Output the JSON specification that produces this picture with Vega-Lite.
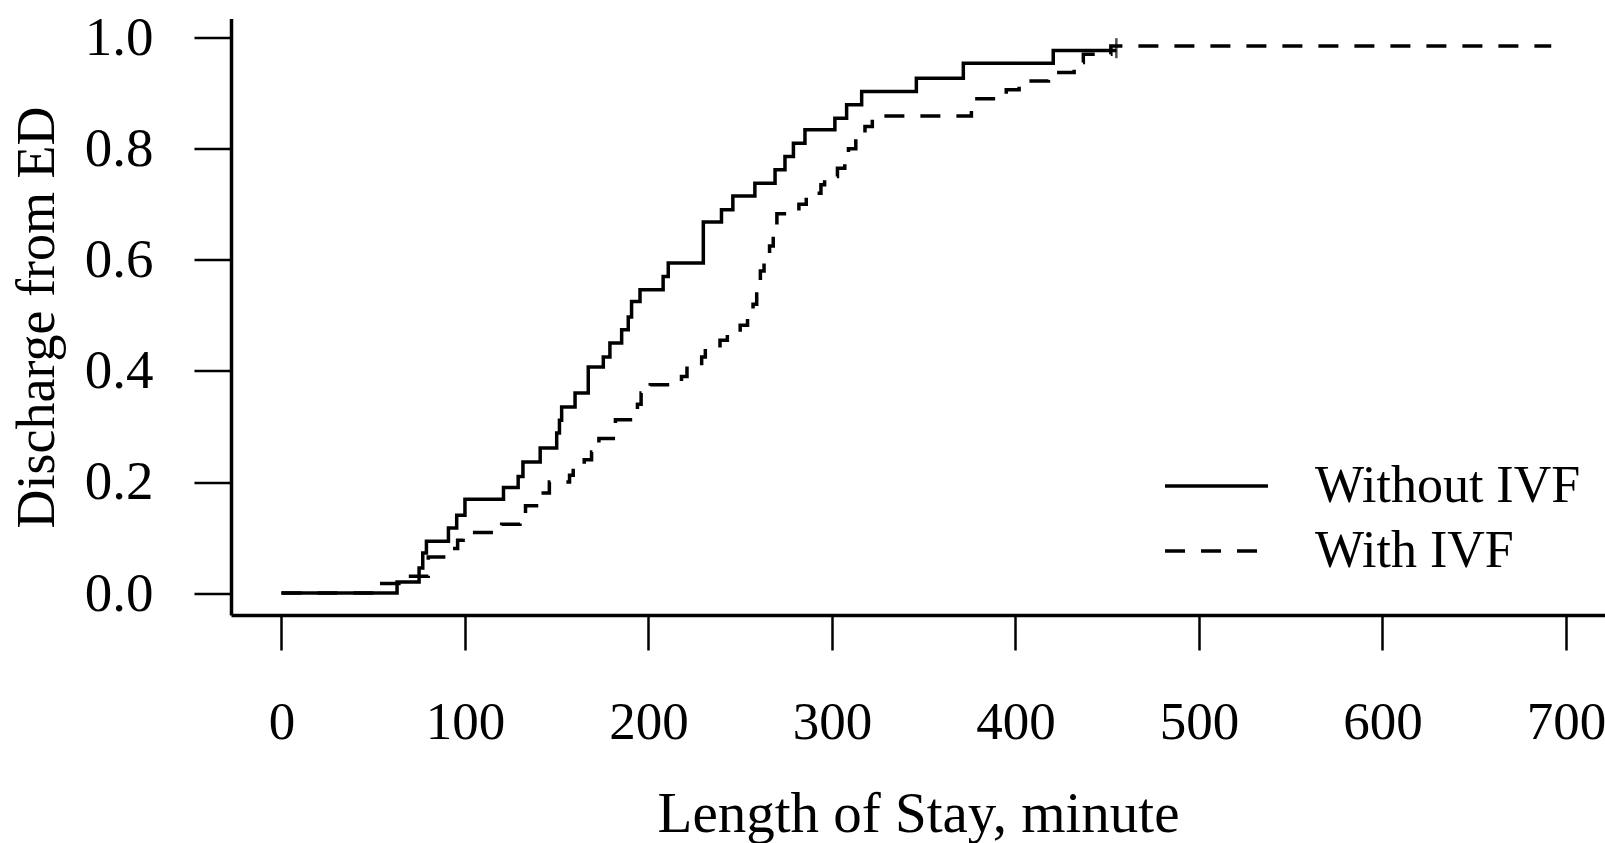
{
  "$schema": "https://vega.github.io/schema/vega-lite/v6.json",
  "usermeta": {"embedOptions": {"actions": false}},
  "width": 1374,
  "height": 596.6,
  "autosize": {"type": "none"},
  "padding": {"left": 231, "top": 18.4, "right": 0, "bottom": 228},
  "background": "white",
  "config": {"view": {"stroke": null}, "font": "Liberation Serif"},
  "datasets": {
    "km": [
      {"minute": 0, "discharged": 0, "group": "Without IVF"},
      {"minute": 63, "discharged": 0.02, "group": "Without IVF"},
      {"minute": 75, "discharged": 0.045, "group": "Without IVF"},
      {"minute": 77, "discharged": 0.072, "group": "Without IVF"},
      {"minute": 79, "discharged": 0.093, "group": "Without IVF"},
      {"minute": 91, "discharged": 0.117, "group": "Without IVF"},
      {"minute": 95.5, "discharged": 0.14, "group": "Without IVF"},
      {"minute": 100, "discharged": 0.169, "group": "Without IVF"},
      {"minute": 121, "discharged": 0.19, "group": "Without IVF"},
      {"minute": 129, "discharged": 0.21, "group": "Without IVF"},
      {"minute": 131.6, "discharged": 0.236, "group": "Without IVF"},
      {"minute": 141, "discharged": 0.261, "group": "Without IVF"},
      {"minute": 150, "discharged": 0.288, "group": "Without IVF"},
      {"minute": 151.5, "discharged": 0.311, "group": "Without IVF"},
      {"minute": 152.7, "discharged": 0.335, "group": "Without IVF"},
      {"minute": 160, "discharged": 0.36, "group": "Without IVF"},
      {"minute": 167.2, "discharged": 0.407, "group": "Without IVF"},
      {"minute": 175.4, "discharged": 0.425, "group": "Without IVF"},
      {"minute": 179, "discharged": 0.45, "group": "Without IVF"},
      {"minute": 185.4, "discharged": 0.474, "group": "Without IVF"},
      {"minute": 189, "discharged": 0.497, "group": "Without IVF"},
      {"minute": 190.8, "discharged": 0.525, "group": "Without IVF"},
      {"minute": 195.4, "discharged": 0.546, "group": "Without IVF"},
      {"minute": 208, "discharged": 0.57, "group": "Without IVF"},
      {"minute": 210.8, "discharged": 0.594, "group": "Without IVF"},
      {"minute": 229.9, "discharged": 0.668, "group": "Without IVF"},
      {"minute": 239.8, "discharged": 0.69, "group": "Without IVF"},
      {"minute": 246, "discharged": 0.715, "group": "Without IVF"},
      {"minute": 258, "discharged": 0.738, "group": "Without IVF"},
      {"minute": 269, "discharged": 0.762, "group": "Without IVF"},
      {"minute": 274.4, "discharged": 0.786, "group": "Without IVF"},
      {"minute": 279, "discharged": 0.81, "group": "Without IVF"},
      {"minute": 285.3, "discharged": 0.834, "group": "Without IVF"},
      {"minute": 301.6, "discharged": 0.855, "group": "Without IVF"},
      {"minute": 308, "discharged": 0.879, "group": "Without IVF"},
      {"minute": 316.2, "discharged": 0.903, "group": "Without IVF"},
      {"minute": 346, "discharged": 0.927, "group": "Without IVF"},
      {"minute": 371.6, "discharged": 0.954, "group": "Without IVF"},
      {"minute": 420.6, "discharged": 0.977, "group": "Without IVF"},
      {"minute": 455, "discharged": 0.977, "group": "Without IVF"},
      {"minute": 0, "discharged": 0, "group": "With IVF"},
      {"minute": 53, "discharged": 0.017, "group": "With IVF"},
      {"minute": 64, "discharged": 0.03, "group": "With IVF"},
      {"minute": 80, "discharged": 0.065, "group": "With IVF"},
      {"minute": 93, "discharged": 0.08, "group": "With IVF"},
      {"minute": 96, "discharged": 0.095, "group": "With IVF"},
      {"minute": 99, "discharged": 0.109, "group": "With IVF"},
      {"minute": 120, "discharged": 0.124, "group": "With IVF"},
      {"minute": 130, "discharged": 0.14, "group": "With IVF"},
      {"minute": 133, "discharged": 0.157, "group": "With IVF"},
      {"minute": 141.5, "discharged": 0.18, "group": "With IVF"},
      {"minute": 146, "discharged": 0.2, "group": "With IVF"},
      {"minute": 157, "discharged": 0.212, "group": "With IVF"},
      {"minute": 159, "discharged": 0.224, "group": "With IVF"},
      {"minute": 165, "discharged": 0.24, "group": "With IVF"},
      {"minute": 169, "discharged": 0.254, "group": "With IVF"},
      {"minute": 173, "discharged": 0.278, "group": "With IVF"},
      {"minute": 182, "discharged": 0.312, "group": "With IVF"},
      {"minute": 194, "discharged": 0.34, "group": "With IVF"},
      {"minute": 196, "discharged": 0.36, "group": "With IVF"},
      {"minute": 201, "discharged": 0.375, "group": "With IVF"},
      {"minute": 218, "discharged": 0.39, "group": "With IVF"},
      {"minute": 221, "discharged": 0.41, "group": "With IVF"},
      {"minute": 229, "discharged": 0.425, "group": "With IVF"},
      {"minute": 231, "discharged": 0.44, "group": "With IVF"},
      {"minute": 239, "discharged": 0.455, "group": "With IVF"},
      {"minute": 243, "discharged": 0.47, "group": "With IVF"},
      {"minute": 250, "discharged": 0.482, "group": "With IVF"},
      {"minute": 254, "discharged": 0.495, "group": "With IVF"},
      {"minute": 257, "discharged": 0.52, "group": "With IVF"},
      {"minute": 259, "discharged": 0.55, "group": "With IVF"},
      {"minute": 261, "discharged": 0.58, "group": "With IVF"},
      {"minute": 263, "discharged": 0.6, "group": "With IVF"},
      {"minute": 266, "discharged": 0.625, "group": "With IVF"},
      {"minute": 268, "discharged": 0.65, "group": "With IVF"},
      {"minute": 270, "discharged": 0.683, "group": "With IVF"},
      {"minute": 282, "discharged": 0.7, "group": "With IVF"},
      {"minute": 286, "discharged": 0.72, "group": "With IVF"},
      {"minute": 294, "discharged": 0.735, "group": "With IVF"},
      {"minute": 296, "discharged": 0.75, "group": "With IVF"},
      {"minute": 303, "discharged": 0.765, "group": "With IVF"},
      {"minute": 307, "discharged": 0.78, "group": "With IVF"},
      {"minute": 309, "discharged": 0.8, "group": "With IVF"},
      {"minute": 313, "discharged": 0.82, "group": "With IVF"},
      {"minute": 318, "discharged": 0.84, "group": "With IVF"},
      {"minute": 322, "discharged": 0.859, "group": "With IVF"},
      {"minute": 376, "discharged": 0.873, "group": "With IVF"},
      {"minute": 379, "discharged": 0.89, "group": "With IVF"},
      {"minute": 395, "discharged": 0.906, "group": "With IVF"},
      {"minute": 402, "discharged": 0.922, "group": "With IVF"},
      {"minute": 418, "discharged": 0.937, "group": "With IVF"},
      {"minute": 432, "discharged": 0.955, "group": "With IVF"},
      {"minute": 437, "discharged": 0.97, "group": "With IVF"},
      {"minute": 452, "discharged": 0.985, "group": "With IVF"},
      {"minute": 692, "discharged": 0.985, "group": "With IVF"}
    ],
    "censor": [
      {"minute": 455, "discharged": 0.981, "group": "Without IVF"}
    ]
  },
  "layer": [
    {
      "data": {"name": "km"},
      "mark": {"type": "line", "interpolate": "step-after", "color": "black", "strokeWidth": 3.5},
      "encoding": {
        "x": {
          "field": "minute", "type": "quantitative",
          "scale": {"domain": [-27.5, 721.3], "nice": false, "zero": false},
          "axis": {
            "values": [0, 100, 200, 300, 400, 500, 600, 700],
            "grid": false,
            "domainColor": "black", "domainWidth": 3.5,
            "tickColor": "black", "tickWidth": 2.5, "tickSize": 35,
            "labelFont": "Liberation Serif", "labelFontSize": 53, "labelColor": "black",
            "labelPadding": 46, "labelFlush": false, "labelOverlap": false,
            "title": "Length of Stay, minute",
            "titleFont": "Liberation Serif", "titleFontSize": 57, "titleFontWeight": "normal",
            "titleColor": "black", "titleBaseline": "alphabetic", "titleY": 216
          }
        },
        "y": {
          "field": "discharged", "type": "quantitative",
          "scale": {"domain": [-0.0396, 1.0346], "nice": false, "zero": false},
          "axis": {
            "values": [0, 0.2, 0.4, 0.6, 0.8, 1.0],
            "format": ".1f",
            "grid": false,
            "domainColor": "black", "domainWidth": 3.5,
            "tickColor": "black", "tickWidth": 2.5, "tickSize": 37,
            "labelFont": "Liberation Serif", "labelFontSize": 55, "labelColor": "black",
            "labelPadding": 41, "labelFlush": false, "labelOverlap": false,
            "title": "Discharge from ED",
            "titleFont": "Liberation Serif", "titleFontSize": 54, "titleFontWeight": "normal",
            "titleColor": "black", "titleAngle": -90, "titleBaseline": "alphabetic",
            "titleAlign": "center", "titleX": -178, "titleY": 298.6
          }
        },
        "strokeDash": {
          "field": "group", "type": "nominal",
          "scale": {"domain": ["Without IVF", "With IVF"], "range": [[1, 0], [20, 16]]},
          "legend": {
            "orient": "none", "legendX": 958, "legendY": 440,
            "title": null, "padding": 0,
            "symbolType": "M-2,0H2", "symbolSize": 2650, "symbolStrokeWidth": 3.5,
            "symbolStrokeColor": "black", "symbolFillColor": "transparent",
            "labelFont": "Liberation Serif", "labelFontSize": 52, "labelColor": "black",
            "labelLimit": 0, "labelOffset": 71, "rowPadding": 11
          }
        }
      }
    },
    {
      "data": {"name": "censor"},
      "mark": {"type": "tick", "orient": "vertical", "color": "black", "thickness": 2.5, "size": 20},
      "encoding": {
        "x": {"field": "minute", "type": "quantitative"},
        "y": {"field": "discharged", "type": "quantitative"}
      }
    }
  ]
}
